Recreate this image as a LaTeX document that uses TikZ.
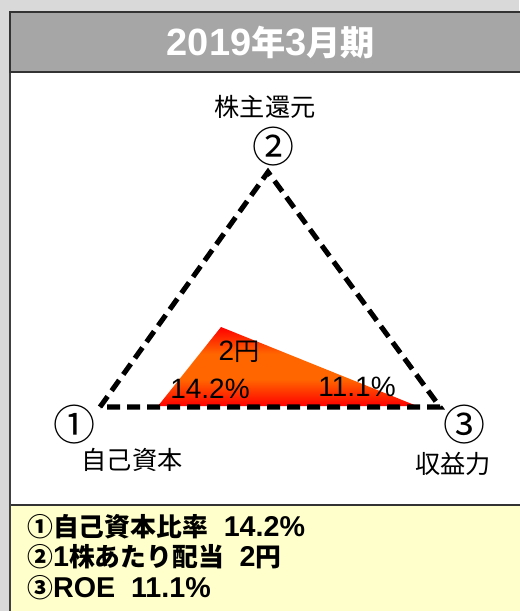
\documentclass[tikz,border=0pt]{standalone}
\usepackage{fontspec}
\setmainfont{Liberation Sans}
\newfontfamily\jp[Scale=0.9]{Noto Sans CJK JP}
\usetikzlibrary{positioning}
\definecolor{pagegray}{HTML}{D9D9D9}
\definecolor{titlegray}{HTML}{A6A6A6}
\definecolor{noteyellow}{HTML}{FFFFCC}
\definecolor{midorange}{HTML}{FF6600}
\pgfdeclareverticalshading{redorange}{100bp}{color(0bp)=(red); color(25bp)=(red);
  color(42bp)=(midorange); color(58bp)=(midorange); color(75bp)=(red); color(100bp)=(red)}

\begin{document}
\begin{tikzpicture}[x=0.75pt,y=-0.75pt,line cap=butt,
  axislabel/.style={font=\fontsize{21}{24}\selectfont\jp,inner sep=0pt},
  circnum/.style={font=\fontsize{35}{38}\selectfont\jp,inner sep=0pt},
  valuelabel/.style={font=\fontsize{21}{24}\selectfont,inner sep=0pt},
  noteline/.style={font=\fontsize{21.5}{24}\selectfont\bfseries,inner sep=0pt,anchor=west},
  dashedge/.style={draw=black,line width=3.8pt,dash pattern=on 9.75pt off 5.25pt}]
\useasboundingbox (0,0) rectangle (519,611);
% background and panel
\fill[pagegray] (0,0) rectangle (519,611);
\fill[white] (10,72) rectangle (530,505);
\fill[noteyellow] (10,505) rectangle (530,620);
\draw[black!80,line width=1.2pt] (10,505) -- (530,505);
\draw[black!75,line width=1.5pt] (10,12) -- (10,620);
\filldraw[fill=titlegray,draw=black!80,line width=1.5pt] (10,12) rectangle (530,72);
\node[text=white,font=\fontsize{28.5}{30}\selectfont\bfseries,inner sep=0pt] (title) at (271,42)
  {2019{\jp 年}3{\jp 月期}};

% corners of the chart
\coordinate (top) at (268,172);
\coordinate (left) at (100,407);
\coordinate (right) at (440,407);
% result area
\coordinate (eqcorner) at (158,406);
\coordinate (divcorner) at (221,327);
\coordinate (roecorner) at (417,406);
\shade[shading=redorange] (eqcorner) -- (divcorner) -- (roecorner) -- cycle;
\draw[dashedge] (left) -- (top) -- (right) -- cycle;

\node[valuelabel] (divval) at (239,352) {2{\jp 円}};
\node[valuelabel] (eqval) at (210,389) {14.2\%};
\node[valuelabel] (roeval) at (357,387) {11.1\%};

\node[axislabel] (shr) at (265,107) {株主還元};
\node[circnum] (n2) at (273,147) {②};
\node[circnum] (n1) at (74,425) {①};
\node[axislabel] (equity) at (132,460) {自己資本};
\node[circnum] (n3) at (464,425) {③};
\node[axislabel] (profit) at (453,464) {収益力};

% notes
\node[noteline] (note1) at (27,527) {{\jp ①自己資本比率}\ \ 14.2\%};
\node[noteline] (note2) at (27,557) {{\jp ②}1{\jp 株あたり配当}\ \ 2{\jp 円}};
\node[noteline] (note3) at (27,588) {{\jp ③}ROE\ \ 11.1\%};
\end{tikzpicture}
\end{document}
